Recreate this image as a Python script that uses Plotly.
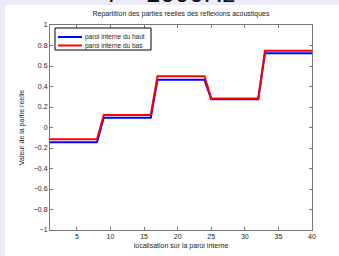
import plotly.graph_objects as go

positions = list(range(1, 41))
haut_levels = [-0.145, 0.095, 0.465, 0.275, 0.725]
bas_levels = [-0.115, 0.122, 0.500, 0.283, 0.748]
haut = [v for v in haut_levels for _ in range(8)]
bas = [v for v in bas_levels for _ in range(8)]
series_names = ["paroi interne du haut", "paroi interne du bas"]
series_colors = ["#0000ff", "#ff0000"]
x_ticks = [5, 10, 15, 20, 25, 30, 35, 40]
y_ticks = [-1, -0.8, -0.6, -0.4, -0.2, 0, 0.2, 0.4, 0.6, 0.8, 1]
y_ticktext = ["\u22121", "\u22120.8", "\u22120.6", "\u22120.4", "\u22120.2", "0", "0.2", "0.4", "0.6", "0.8", "1"]

W, H = 339, 256
l, r, t, b = 50, 27, 25, 26
pw, ph = W - l - r, H - t - b
LAV = "#ebebfa"


def px(x):
    return (x - l) / pw


def py(y):
    return (H - b - y) / ph


fig = go.Figure()
for name, ys, col in zip(series_names, [haut, bas], series_colors):
    fig.add_trace(go.Scatter(x=positions, y=ys, mode="lines", name=name,
                             line=dict(color=col, width=2), showlegend=False,
                             hoverinfo="skip"))

axis_common = dict(showgrid=False, zeroline=False, showline=True, linecolor="#777777",
                   linewidth=1, mirror="allticks", ticks="inside", ticklen=3,
                   tickcolor="#777777", automargin=False,
                   tickfont=dict(size=7, color="#222222", family="Liberation Sans"))

shapes = [dict(type="rect", xref="paper", yref="paper", layer="below",
               x0=px(-10), x1=px(5), y0=py(H + 10), y1=py(-10),
               fillcolor=LAV, line=dict(width=0)),
          dict(type="rect", xref="paper", yref="paper", layer="below",
               x0=px(-10), x1=px(W + 10), y0=py(5), y1=py(-10),
               fillcolor=LAV, line=dict(width=0)),
          # legend box
          dict(type="rect", xref="paper", yref="paper",
               x0=px(55), x1=px(151), y0=py(50), y1=py(28),
               fillcolor="white", line=dict(color="#000000", width=1))]
annotations = [dict(text="<i>f</i> = 1000Hz", xref="paper", yref="paper",
                    x=px(172), y=py(10), xanchor="center", yanchor="bottom",
                    showarrow=False, font=dict(size=26, color="#111111"))]
for i, (name, col) in enumerate(zip(series_names, series_colors)):
    yy = 37 + i * 8.5
    shapes.append(dict(type="line", xref="paper", yref="paper",
                       x0=px(58), x1=px(82), y0=py(yy), y1=py(yy),
                       line=dict(color=col, width=2)))
    annotations.append(dict(text=name, xref="paper", yref="paper",
                            x=px(84), y=py(yy), xanchor="left", yanchor="middle",
                            showarrow=False, borderpad=0,
                            font=dict(size=6.5, color="#222222", family="Liberation Sans")))

fig.update_layout(
    width=W, height=H,
    margin=dict(l=l, r=r, t=t, b=b),
    paper_bgcolor="white",
    plot_bgcolor="white",
    font=dict(family="Liberation Sans", color="#222222"),
    title=dict(text="Repartition des parties reelles des reflexions acoustiques",
               x=0.5, xanchor="center", xref="paper", y=1 - 14 / H, yanchor="middle",
               font=dict(size=7, color="#222222")),
    xaxis=dict(range=[1, 40], tickvals=x_ticks,
               title=dict(text="localisation sur la paroi interne", font=dict(size=7), standoff=3),
               **axis_common),
    yaxis=dict(range=[-1, 1], tickvals=y_ticks, ticktext=y_ticktext,
               title=dict(text="Valeur de la partie reelle", font=dict(size=7), standoff=8),
               **axis_common),
    showlegend=False,
    hovermode=False,
    shapes=shapes,
    annotations=annotations,
)

fig.write_html("out.html", config={"displayModeBar": False},
               post_script="document.body.style.margin='0px';document.body.style.overflow='hidden';")
